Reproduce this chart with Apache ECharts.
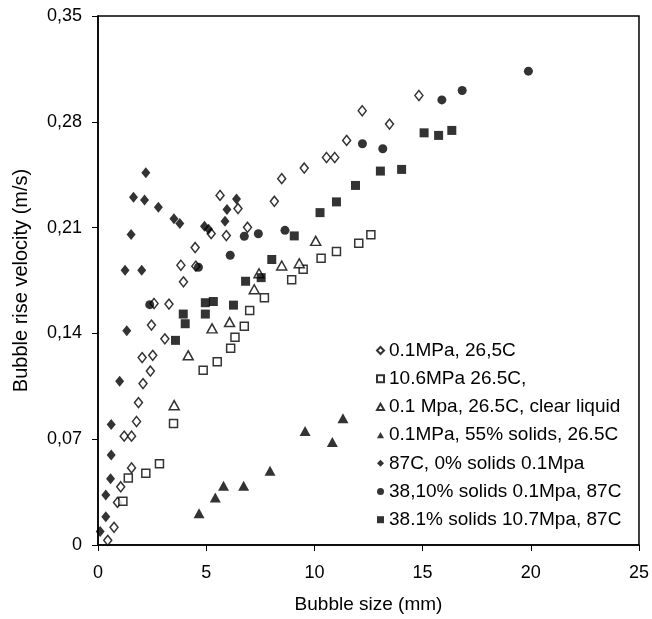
<!DOCTYPE html>
<html><head><meta charset="utf-8">
<script src="https://cdn.jsdelivr.net/npm/echarts@6/dist/echarts.min.js"></script>
<style>html,body{margin:0;padding:0;background:#fff}#c{width:652px;height:619px}</style>
</head><body><div id="c"></div>
<script>
const seriesNames = [
  '0.1MPa, 26,5C',
  '10.6MPa 26.5C,',
  '0.1 Mpa, 26.5C, clear liquid',
  '0.1MPa, 55% solids, 26.5C',
  '87C, 0% solids 0.1Mpa',
  '38,10% solids 0.1Mpa, 87C',
  '38.1% solids 10.7Mpa, 87C'
];
const xTicks = [0, 5, 10, 15, 20, 25];
const yTicks = [0, 0.07, 0.14, 0.21, 0.28, 0.35];

const openDiamond = [
  [0.45,0.0031],[0.74,0.0117],[0.90,0.0282],[1.05,0.0385],[1.55,0.0510],[1.21,0.0720],[1.55,0.0720],
  [1.78,0.0817],[1.87,0.0942],[2.08,0.1068],[2.42,0.1151],[2.04,0.1240],[2.53,0.1255],[3.09,0.1364],
  [2.47,0.1455],[2.59,0.1598],[3.28,0.1594],[3.95,0.1741],[3.83,0.1851],[4.52,0.1845],[4.49,0.1968],
  [5.23,0.2060],[5.93,0.2047],[6.91,0.2102],[5.64,0.2313],[6.47,0.2226],[8.15,0.2274],[8.49,0.2424],
  [9.53,0.2494],[10.56,0.2564],[10.94,0.2564],[11.49,0.2677],[12.21,0.2873],[13.47,0.2785],[14.83,0.2974]
];
const openSquare = [
  [1.15,0.0290],[1.40,0.0444],[2.21,0.0474],[2.84,0.0537],[3.49,0.0804],[4.86,0.1156],[5.51,0.1213],
  [6.13,0.1301],[6.33,0.1374],[6.76,0.1448],[7.01,0.1551],[7.69,0.1636],[8.95,0.1755],[9.48,0.1825],
  [10.31,0.1897],[11.02,0.1942],[12.05,0.1996],[12.61,0.2052]
];
const openTriangle = [
  [3.52,0.0925],[4.17,0.1255],[5.27,0.1433],[6.08,0.1475],[7.22,0.1692],[7.44,0.1798],[8.49,0.1849],
  [9.30,0.1864],[10.06,0.2012]
];
const filledTriangle = [
  [4.67,0.0210],[5.42,0.0314],[5.80,0.0392],[6.73,0.0392],[7.95,0.0492],[9.57,0.0755],[10.83,0.0682],
  [11.32,0.0839]
];
const filledDiamond = [
  [0.10,0.0090],[0.36,0.0187],[0.36,0.0330],[0.58,0.0438],[0.61,0.0596],[0.61,0.0797],[1.00,0.1083],
  [1.33,0.1418],[1.25,0.1818],[2.02,0.1818],[1.53,0.2054],[2.21,0.2463],[1.64,0.2300],[2.15,0.2283],
  [2.79,0.2234],[3.51,0.2158],[3.78,0.2127],[4.92,0.2109],[5.11,0.2089],[6.40,0.2290],[5.96,0.2219],
  [5.87,0.2142]
];
const filledCircle = [
  [2.39,0.1590],[4.64,0.1838],[6.11,0.1917],[6.76,0.2043],[7.41,0.2059],[8.64,0.2082],[12.22,0.2655],
  [13.16,0.2622],[15.89,0.2945],[16.83,0.3007],[19.89,0.3135]
];
const filledSquare = [
  [3.58,0.1354],[4.03,0.1464],[3.94,0.1528],[4.96,0.1528],[4.96,0.1603],[5.33,0.1611],[6.26,0.1587],
  [6.82,0.1745],[7.54,0.1769],[8.03,0.1889],[9.07,0.2045],[10.26,0.2199],[11.02,0.2270],[11.90,0.2379],
  [13.05,0.2474],[14.03,0.2485],[15.07,0.2727],[15.74,0.2710],[16.35,0.2743]
];

const FONT = 'Liberation Sans, Arial, sans-serif';
const openStyle = {color:'#fff', borderColor:'#000', borderWidth:1.5};
const fillStyle = {color:'#000', borderColor:'#000', borderWidth:0};
const tri = 'path://M5,0 L10,9 L0,9 Z';

const defs = [
  {data: openDiamond, symbol:'diamond', size:[8,10], style:openStyle},
  {data: openSquare, symbol:'rect', size:8, style:openStyle},
  {data: openTriangle, symbol:tri, size:[10,9], style:openStyle},
  {data: filledTriangle, symbol:tri, size:[11,10], style:fillStyle},
  {data: filledDiamond, symbol:'diamond', size:[9,11], style:fillStyle},
  {data: filledCircle, symbol:'circle', size:9, style:fillStyle},
  {data: filledSquare, symbol:'rect', size:9, style:fillStyle}
];

const chart = echarts.init(document.getElementById('c'), null, {renderer:'canvas'});
const fmt = v => v === 0 ? '0' : v.toFixed(2).replace('.', ',');
chart.setOption({
  animation:false,
  backgroundColor:'#fff',
  textStyle:{fontFamily:FONT},
  grid:{left:98, right:10, top:16, bottom:73, show:true, borderColor:'#000', borderWidth:1.5, backgroundColor:'transparent'},
  legend:{
    orient:'vertical', left:371, top:336, itemGap:9.2, itemWidth:7, itemHeight:7,
    data: seriesNames,
    textStyle:{fontSize:19, color:'#000', fontFamily:FONT, padding:[0,0,0,0]}
  },
  xAxis:{
    type:'value', min:0, max:25, interval:5,
    name:'Bubble size (mm)', nameLocation:'middle', nameGap:50,
    nameTextStyle:{fontSize:19, color:'#000', fontFamily:FONT},
    axisLine:{show:true, lineStyle:{color:'#000', width:1.5}},
    axisTick:{show:true, inside:false, length:6, lineStyle:{color:'#000'}},
    axisLabel:{fontSize:18, color:'#000', margin:19, fontFamily:FONT,
      formatter: v => xTicks.includes(v) ? String(v) : ''},
    splitLine:{show:false}
  },
  yAxis:{
    type:'value', min:0, max:0.35, interval:0.07,
    name:'Bubble rise velocity (m/s)', nameLocation:'middle', nameGap:67, nameRotate:90,
    nameTextStyle:{fontSize:20, color:'#000', fontFamily:FONT},
    axisLine:{show:true, lineStyle:{color:'#000', width:1.5}},
    axisTick:{show:true, inside:false, length:6, lineStyle:{color:'#000'}},
    axisLabel:{fontSize:18, color:'#000', margin:16, fontFamily:FONT,
      formatter: v => { const t = yTicks.find(k => Math.abs(k - v) < 1e-9); return t === undefined ? '' : fmt(t); }},
    splitLine:{show:false}
  },
  series: defs.map((d,i) => ({
    name: seriesNames[i], type:'scatter', data:d.data,
    symbol:d.symbol, symbolSize:d.size, itemStyle:d.style,
    emphasis:{disabled:true}
  }))
});
</script></body></html>
